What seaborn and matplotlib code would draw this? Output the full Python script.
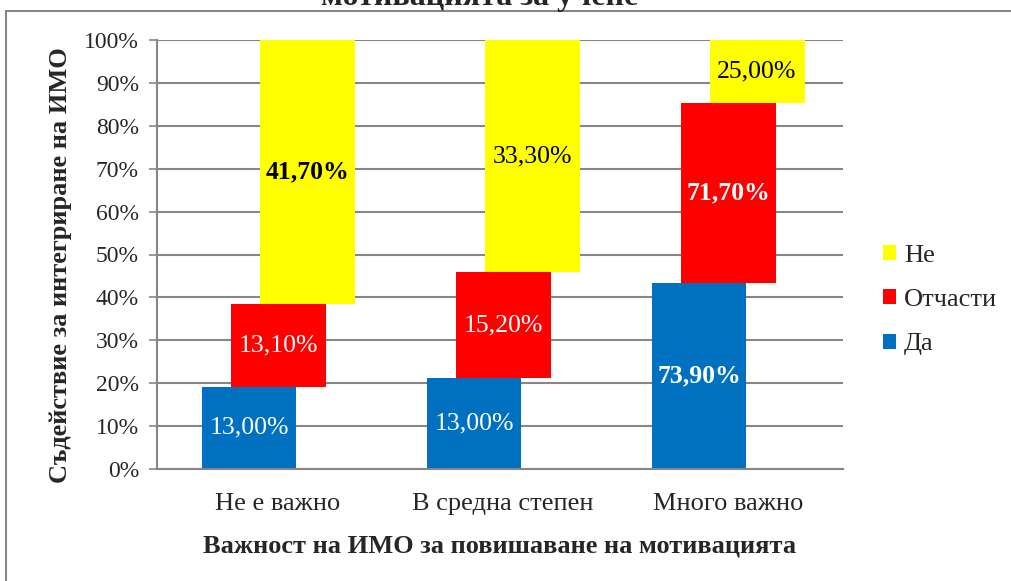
import matplotlib
matplotlib.use("Agg")
import matplotlib.pyplot as plt
from matplotlib.patches import Patch, Rectangle
import seaborn as sns
import numpy as np

categories = ['Не е важно', 'В средна степен', 'Много важно']
series = ['Да', 'Отчасти', 'Не']
da = [13.00, 13.00, 73.90]
otchasti = [13.10, 15.20, 71.70]
ne = [41.70, 33.30, 25.00]
colors = {'Да': '#0070C0', 'Отчасти': '#FF0000', 'Не': '#FFFF00'}
label_colors = {'Да': 'white', 'Отчасти': 'white', 'Не': 'black'}
bold_labels = {'Да': [False, False, True], 'Отчасти': [False, False, True], 'Не': [True, False, False]}

sns.set_style('white')
plt.rcParams['font.family'] = ['Liberation Serif', 'DejaVu Serif']

vals = np.array([da, otchasti, ne])
share = vals / vals.sum(axis=0)
bottoms = np.vstack([np.zeros(3), np.cumsum(share, axis=0)[:-1]])

fig = plt.figure(figsize=(10.11, 5.81), dpi=100)
ax = fig.add_axes([157 / 1011, 1 - 469 / 581, (843 - 157) / 1011, (469 - 40) / 581])

pos = np.arange(len(categories))
offsets = [-0.129, 0.0, 0.129]
for k, s in enumerate(series):
    x = pos + offsets[k]
    sns.barplot(x=x, y=share[k], bottom=bottoms[k], native_scale=True, width=0.422,
                color=colors[s], saturation=1, edgecolor='none', linewidth=0, ax=ax)
    for i in range(len(categories)):
        txt = f"{vals[k, i]:.2f}".replace('.', ',') + '%'
        ax.text(x[i], bottoms[k, i] + share[k, i] / 2, txt, ha='center', va='center',
                fontsize=18.5, color=label_colors[s],
                fontweight='bold' if bold_labels[s][i] else 'normal')

ax.set_xlim(-0.538, 2.511)
ax.set_ylim(0, 1)
ax.set_yticks(np.arange(0, 1.01, 0.1))
ax.set_yticklabels([f"{int(round(t * 100))}%" for t in np.arange(0, 1.01, 0.1)], fontsize=17)
ax.set_xticks(pos)
ax.set_xticklabels(categories, fontsize=19)
ax.tick_params(axis='y', length=6, width=1.2, color='#868686', pad=7, left=True)
ax.tick_params(axis='x', length=0, pad=17)
ax.yaxis.grid(True, color='#868686', linewidth=1.5)
ax.set_axisbelow(True)
for sp in ['top', 'right']:
    ax.spines[sp].set_visible(False)
for sp in ['left', 'bottom']:
    ax.spines[sp].set_color('#868686')
    ax.spines[sp].set_linewidth(1.5)

ax.set_xlabel('Важност на ИМО за повишаване на мотивацията', fontsize=19, fontweight='bold', labelpad=14)
ax.set_ylabel('Съдействие за интегриране на ИМО', fontsize=19, fontweight='bold')
ax.yaxis.set_label_coords(-0.124, 0.476)

handles = [Patch(facecolor=colors[s], edgecolor='none') for s in ['Не', 'Отчасти', 'Да']]
fig.legend(handles, ['Не', 'Отчасти', 'Да'], loc='center left', bbox_to_anchor=(0.863, 1 - 300 / 581),
           frameon=False, fontsize=19, handlelength=0.5, handleheight=0.5, handletextpad=0.3,
           labelspacing=0.85, borderaxespad=0)

fig.text(0.474, 1 - 5 / 581, 'мотивацията за учене', ha='center', va='baseline',
         fontsize=23, fontweight='bold')
fig.patches.append(Rectangle((6 / 1011, -0.1), 1.2, 1.1 - 11 / 581, transform=fig.transFigure,
                             fill=False, edgecolor='#868686', linewidth=1.5))

fig.savefig('out.png', dpi=100)
